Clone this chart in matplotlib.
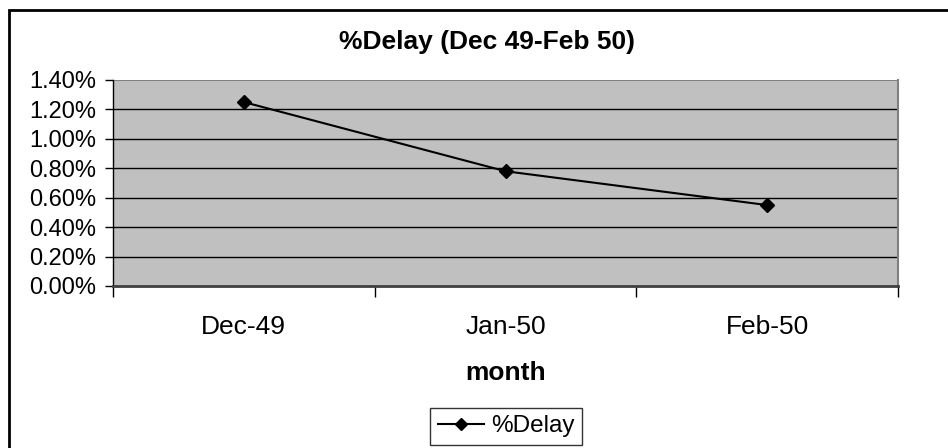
import matplotlib.pyplot as plt
from matplotlib.patches import Rectangle
from matplotlib.ticker import FuncFormatter, FixedLocator

plt.rcParams['font.family'] = ['Liberation Sans', 'DejaVu Sans']

months = ["Dec-49", "Jan-50", "Feb-50"]
delay_pct = [1.25, 0.78, 0.55]
y_ticks = [0.0, 0.2, 0.4, 0.6, 0.8, 1.0, 1.2, 1.4]

fig = plt.figure(figsize=(9.48, 4.48), dpi=100)
ax = fig.add_axes([113 / 948, 1 - 286 / 448, 785 / 948, 206 / 448])
ax.set_facecolor("#c0c0c0")

# chart frame
fig.patches.append(Rectangle((9 / 948, -0.1), 1.2, 1 - 10 / 448 + 0.1,
                             transform=fig.transFigure, fill=False,
                             edgecolor="black", linewidth=2))

x = list(range(len(months)))
ax.plot(x, delay_pct, color="black", linewidth=1.5, marker="D",
        markersize=7, label="%Delay", zorder=3)

ax.set_xlim(-0.5, len(months) - 0.5)
ax.set_ylim(0, 1.4)
ax.set_yticks(y_ticks)
ax.yaxis.set_major_formatter(FuncFormatter(lambda v, p: f"{v:.2f}%"))
for v in y_ticks[1:-1]:
    ax.axhline(v, color="black", linewidth=1, zorder=1)
ax.axhline(1.4, color="#808080", linewidth=1.5, zorder=1)

ax.set_xticks(x)
ax.set_xticklabels(months, fontsize=19)
ax.xaxis.set_minor_locator(FixedLocator([i - 0.5 for i in range(len(months) + 1)]))
ax.tick_params(axis="x", which="major", length=0, pad=21)
ax.tick_params(axis="x", which="minor", length=8, width=1, color="black")
ax.tick_params(axis="y", length=6, width=1, labelsize=17, pad=6)

ax.spines["top"].set_visible(False)
ax.spines["left"].set_color("black")
ax.spines["left"].set_linewidth(1)
ax.spines["bottom"].set_color("#404040")
ax.spines["bottom"].set_linewidth(2)
ax.spines["right"].set_color("#808080")
ax.spines["right"].set_linewidth(1.5)

ax.set_xlabel("month", fontsize=19, fontweight="bold", labelpad=16)
fig.text(487 / 948, 1 - 42 / 448, "%Delay (Dec 49-Feb 50)", fontsize=19,
         fontweight="bold", ha="center", va="center")

leg = fig.legend(loc="upper center", bbox_to_anchor=(506 / 948, 1 - 408 / 448),
                 fontsize=17.5, frameon=True, fancybox=False, handlelength=1.9,
                 borderpad=0.3, handletextpad=0.3, borderaxespad=0,
                 markerscale=0.85)
leg.get_frame().set_edgecolor("black")
leg.get_frame().set_linewidth(1)

fig.savefig("out.png", dpi=100)
